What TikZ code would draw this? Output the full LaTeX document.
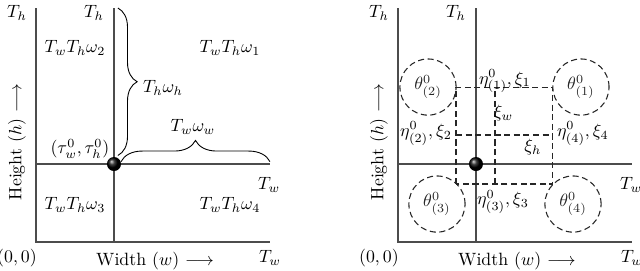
\documentclass[tikz,border=0pt]{standalone}
\usepackage{amsmath, amssymb}
\usepackage{tikz}
\usetikzlibrary{
  % enables the braces
  decorations.pathreplacing,%
  calc,%
  positioning
}
\tikzset{>=latex}
\tikzset{font=\normalsize}
\tikzset{axisline/.style={line width=0.7pt, black!70}}
\tikzset{zone/.style={dash pattern=on 3.4pt off 2pt, line width=0.6pt, black!85}}
\tikzset{bracket/.style={decorate, decoration={brace, amplitude=#1}, line width=0.5pt}}
\tikzset{roundzone/.style={zone, draw, circle, minimum size=1.109cm, inner sep=0pt}}

\begin{document}
\begin{tikzpicture}[x=1.54cm, y=1.54cm]
  \useasboundingbox (-0.4615,-0.359) rectangle (7.744,3.103);
  % common frame of both panels
  \foreach \sx/\nm in {0/L, 4.641/R} {
    \begin{scope}[shift={(\sx,0)}]
      \coordinate (\nm-o) at (0,0);
      \coordinate (\nm-c) at (1,1);
      \draw[axisline] (0,3) -- (\nm-o) -- (3,0);
      \draw[axisline] (1,3) -- (1,0);
      \draw[axisline] (0,1) -- (3,1);
      \node (\nm-th1) at (-0.244,2.936) {$T_h$};
      \node (\nm-th2) at (0.744,2.936) {$T_h$};
      \node (\nm-tw1) at (2.99,0.73) {$T_w$};
      \node (\nm-zero) at (-0.244,-0.205) {$(0,0)$};
      \node (\nm-tw2) at (3.0,-0.205) {$T_w$};
      \node (\nm-width) at (1.526,-0.244) {Width ($w$) $\longrightarrow$};
      \node[rotate=90] (\nm-height) at (-0.244,1.28) {Height ($h$) $\longrightarrow$};
    \end{scope}
  }

  % left panel
  \node (q2) at (0.5,2.487) {$T_wT_h\omega_2$};
  \node (q1) at (2.487,2.487) {$T_wT_h\omega_1$};
  \node (q3) at (0.5,0.474) {$T_wT_h\omega_3$};
  \node (q4) at (2.487,0.474) {$T_wT_h\omega_4$};
  \coordinate (bv1) at (1.05,3.0);
  \coordinate (bv2) at (1.05,1.11);
  \coordinate (bh1) at (1.09,1.03);
  \coordinate (bh2) at (3.0,1.03);
  \draw[bracket=0.38cm] (bv1) -- (bv2);
  \draw[bracket=0.42cm] (bh1) -- (bh2);
  \node (wh) at (1.628,1.974) {$T_h\omega_h$};
  \node (ww) at (2.013,1.474) {$T_w\omega_w$};
  \node (tau) at (0.564,1.19) {$(\tau^0_w,\tau^0_h)$};
  \shade[ball color=black] (L-c) circle (0.09);

  % right panel
  \begin{scope}[shift={(4.641,0)}]
    \coordinate (ra) at (0.744,0.744);
    \coordinate (rb) at (1.987,1.987);
    \draw[zone] (ra) rectangle (rb);
    \draw[zone] (1.244,0.744) -- (1.244,1.987);
    \draw[zone] (0.744,1.372) -- (1.987,1.372);
    \node[roundzone] (th2) at (0.385,1.987) {$\theta^0_{(2)}$};
    \node[roundzone] (th1) at (2.346,1.987) {$\theta^0_{(1)}$};
    \node[roundzone] (th3) at (0.5,0.487) {$\theta^0_{(3)}$};
    \node[roundzone] (th4) at (2.244,0.487) {$\theta^0_{(4)}$};
    \node (eta1) at (1.37,2.06) {$\eta^0_{(1)}, \xi_1$};
    \node (eta2) at (0.36,1.39) {$\eta^0_{(2)}, \xi_2$};
    \node (eta3) at (1.346,0.513) {$\eta^0_{(3)}, \xi_3$};
    \node (eta4) at (2.37,1.39) {$\eta^0_{(4)}, \xi_4$};
    \node (xw) at (1.353,1.654) {$\xi_w$};
    \node (xh) at (1.73,1.218) {$\xi_h$};
  \end{scope}
  \shade[ball color=black] (R-c) circle (0.09);
\end{tikzpicture}
\end{document}
